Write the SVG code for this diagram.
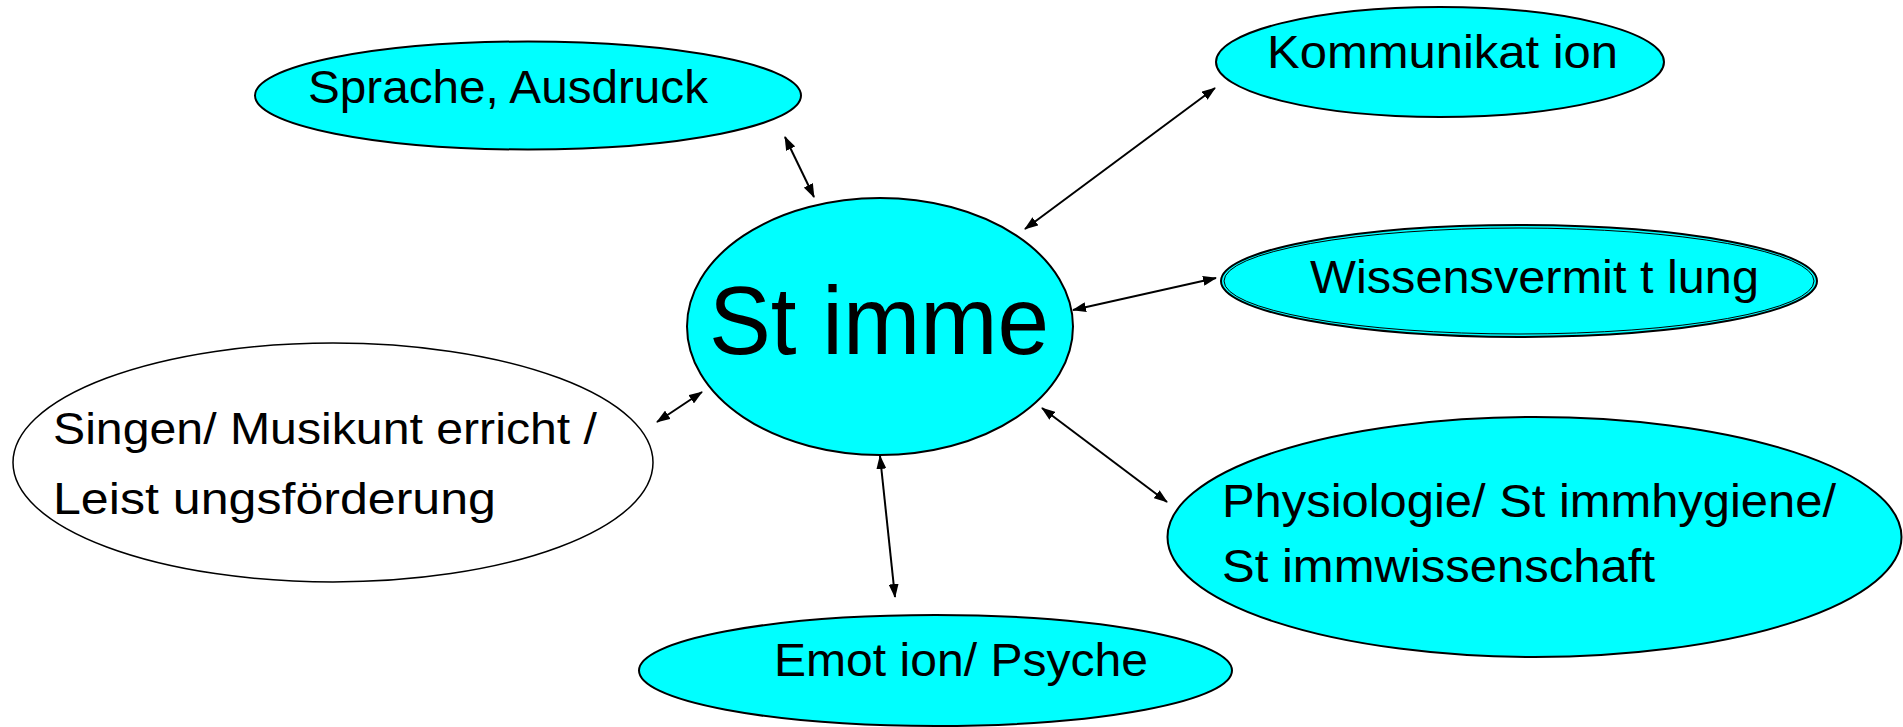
<svg xmlns="http://www.w3.org/2000/svg" width="1903" height="727" viewBox="0 0 1903 727">
<style>
.node{fill:#00FFFF;stroke:#000;stroke-width:2}
.plain{fill:#FFFFFF;stroke:#000;stroke-width:1.5}
.lbl{font-family:"Liberation Sans",Arial,sans-serif;fill:#000}
.conn{stroke:#000;stroke-width:2;fill:none;marker-start:url(#ah);marker-end:url(#ah)}
</style>
<defs>
<marker id="ah" viewBox="0 0 14 10" markerWidth="14" markerHeight="10" refX="13" refY="5" markerUnits="userSpaceOnUse" orient="auto-start-reverse">
<path d="M0,0 L14,5 L0,10 z" fill="#000"/>
</marker>
</defs>
<rect width="1903" height="727" fill="#FFFFFF"/>
<g id="connectors">
<line class="conn" x1="785" y1="137" x2="814" y2="197"/>
<line class="conn" x1="1025" y1="229" x2="1215" y2="88"/>
<line class="conn" x1="1073" y1="310" x2="1216" y2="278"/>
<line class="conn" x1="657" y1="422" x2="702" y2="392"/>
<line class="conn" x1="1042" y1="408" x2="1167" y2="502"/>
<line class="conn" x1="880" y1="456" x2="895" y2="597"/>
</g>
<g id="node-sprache">
<ellipse class="node" cx="528" cy="95.5" rx="273" ry="54"/>
<text class="lbl" x="308" y="103" font-size="47" textLength="400" lengthAdjust="spacingAndGlyphs">Sprache, Ausdruck</text>
</g>
<g id="node-kommunikation">
<ellipse class="node" cx="1440" cy="62" rx="224" ry="55"/>
<text class="lbl" x="1267" y="68" font-size="47" textLength="351" lengthAdjust="spacingAndGlyphs">Kommunikat ion</text>
</g>
<g id="node-stimme">
<ellipse class="node" cx="880" cy="326.5" rx="193" ry="128.5"/>
<text class="lbl" x="709" y="354" font-size="96" textLength="340" lengthAdjust="spacingAndGlyphs">St imme</text>
</g>
<g id="node-wissensvermittlung">
<ellipse class="node" cx="1519" cy="281" rx="298" ry="56"/>
<ellipse cx="1519" cy="281" rx="295" ry="53" fill="none" stroke="#000" stroke-width="1"/>
<text class="lbl" x="1310" y="293" font-size="47" textLength="449" lengthAdjust="spacingAndGlyphs">Wissensvermit t lung</text>
</g>
<g id="node-singen">
<ellipse class="plain" cx="333" cy="462.5" rx="320" ry="119.5"/>
<text class="lbl" x="53" y="444" font-size="45" textLength="544" lengthAdjust="spacingAndGlyphs">Singen/ Musikunt erricht /</text>
<text class="lbl" x="53" y="514" font-size="45" textLength="443" lengthAdjust="spacingAndGlyphs">Leist ungsförderung</text>
</g>
<g id="node-physiologie">
<ellipse class="node" cx="1534.5" cy="537" rx="367" ry="120"/>
<text class="lbl" x="1222" y="517" font-size="46" textLength="614" lengthAdjust="spacingAndGlyphs">Physiologie/ St immhygiene/</text>
<text class="lbl" x="1222" y="582" font-size="46" textLength="433" lengthAdjust="spacingAndGlyphs">St immwissenschaft</text>
</g>
<g id="node-emotion">
<ellipse class="node" cx="935.5" cy="670.5" rx="296.5" ry="55.5"/>
<text class="lbl" x="774" y="676" font-size="47" textLength="374" lengthAdjust="spacingAndGlyphs">Emot ion/ Psyche</text>
</g>
</svg>
